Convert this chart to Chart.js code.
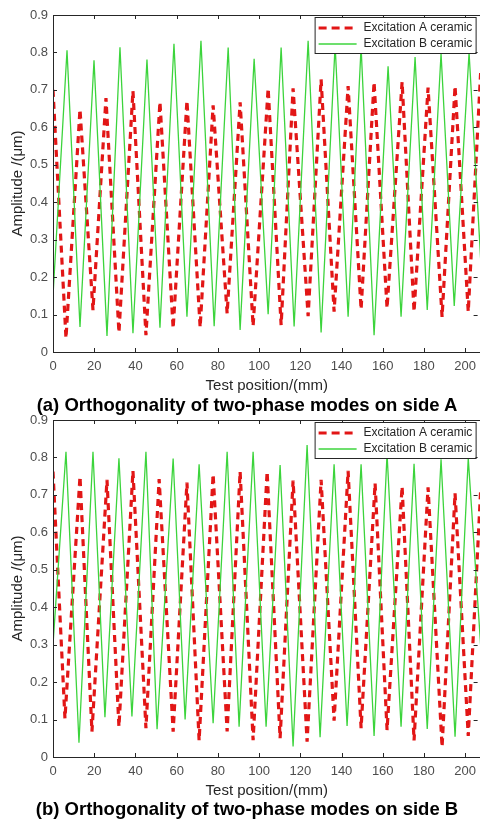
<!DOCTYPE html>
<html lang="en">
<head>
  <meta charset="UTF-8">
  <title>Orthogonality of two-phase modes</title>
  <script src="https://cdn.jsdelivr.net/npm/chart.js"></script>
  <style>
    body {
      margin: 0;
      background: #fff;
      width: 480px;
      height: 821px;
      position: relative;
      overflow: hidden;
      font-family: "Liberation Sans", Arial, sans-serif;
    }
    .box {
      position: absolute;
      left: 0;
      width: 483px;
      height: 395px;
    }
    .caption {
      position: absolute;
      left: 0;
      width: 494px;
      text-align: center;
      font-weight: bold;
      font-size: 18.5px;
      line-height: 22px;
      color: #000;
      z-index: 2;
    }
  </style>
</head>
<body>

<div class="box" style="top: 0;"><canvas id="chart-a"></canvas></div>
<div class="caption" style="top: 394px;">(a) Orthogonality of two-phase modes on side A</div>

<div class="box" style="top: 405px;"><canvas id="chart-b"></canvas></div>
<div class="caption" style="top: 798px;">(b) Orthogonality of two-phase modes on side B</div>

<script>
  // axis ticks
  const xTicks = [0, 20, 40, 60, 80, 100, 120, 140, 160, 180, 200];
  const yTicks = [0, 0.1, 0.2, 0.3, 0.4, 0.5, 0.6, 0.7, 0.8, 0.9];
  const seriesNames = ["Excitation A ceramic", "Excitation B ceramic"];

  // side A, excitation A ceramic (red dashed)
  const sideA_exA_x = [0, 6.3, 13.1, 19.4, 25.7, 32.0, 38.8, 45.1, 51.9, 58.3, 65.0, 71.4, 77.7, 84.5, 90.8, 97.1, 104.4, 110.7, 116.5, 123.8, 130.1, 136.4, 143.2, 149.5, 155.8, 162.1, 169.4, 175.2, 182.0, 188.8, 195.1, 201.5, 207.5];
  const sideA_exA_y = [0.70, 0.037, 0.648, 0.112, 0.678, 0.052, 0.697, 0.045, 0.668, 0.063, 0.671, 0.066, 0.659, 0.103, 0.667, 0.069, 0.704, 0.072, 0.704, 0.096, 0.728, 0.108, 0.710, 0.114, 0.721, 0.117, 0.721, 0.108, 0.706, 0.094, 0.710, 0.108, 0.745];

  // side A, excitation B ceramic (green)
  const sideA_exB_x = [0, 6.8, 13.1, 19.9, 26.2, 32.5, 38.8, 45.6, 51.9, 58.7, 65.0, 71.8, 78.2, 85.0, 90.8, 97.6, 104.4, 110.7, 117.0, 123.8, 130.1, 136.9, 143.2, 149.5, 155.8, 162.6, 168.9, 175.7, 181.6, 188.3, 194.7, 201.9, 207.5];
  const sideA_exB_y = [0.15, 0.806, 0.067, 0.779, 0.043, 0.814, 0.050, 0.781, 0.065, 0.823, 0.094, 0.831, 0.069, 0.813, 0.059, 0.783, 0.101, 0.813, 0.068, 0.831, 0.052, 0.82, 0.094, 0.815, 0.045, 0.763, 0.094, 0.788, 0.112, 0.797, 0.123, 0.80, 0.25];

  // side B, excitation A ceramic (red dashed)
  const sideB_exA_x = [0, 5.8, 13.1, 18.9, 26.2, 32.0, 38.8, 45.1, 51.5, 58.3, 65.0, 70.9, 77.7, 84.5, 90.8, 97.1, 103.9, 110.2, 116.5, 123.3, 130.1, 136.4, 143.2, 149.5, 156.3, 162.1, 169.4, 175.2, 182.0, 188.8, 195.1, 201.5, 207.5];
  const sideB_exA_y = [0.762, 0.103, 0.749, 0.068, 0.740, 0.081, 0.764, 0.077, 0.742, 0.068, 0.733, 0.044, 0.755, 0.068, 0.762, 0.045, 0.762, 0.050, 0.738, 0.041, 0.740, 0.097, 0.764, 0.077, 0.731, 0.072, 0.722, 0.044, 0.720, 0.027, 0.704, 0.056, 0.71];

  // side B, excitation B ceramic (green)
  const sideB_exB_x = [0, 6.3, 12.6, 19.4, 25.2, 32.0, 38.3, 45.1, 50.5, 58.3, 64.1, 70.9, 77.7, 84.5, 90.3, 97.1, 103.4, 110.2, 116.5, 123.3, 129.6, 136.4, 142.7, 149.5, 155.8, 162.1, 168.9, 175.2, 181.6, 188.3, 195.1, 201.5, 207.5];
  const sideB_exB_y = [0.30, 0.815, 0.038, 0.815, 0.106, 0.798, 0.108, 0.815, 0.074, 0.797, 0.100, 0.782, 0.090, 0.815, 0.081, 0.815, 0.081, 0.78, 0.028, 0.833, 0.053, 0.782, 0.083, 0.782, 0.056, 0.81, 0.081, 0.783, 0.075, 0.795, 0.054, 0.798, 0.3];

  const RED = "rgb(226, 22, 22)";
  const GREEN = "rgb(60, 212, 60)";
  const INK = "#262626";
  const FONT = '"Liberation Sans", Arial, sans-serif';

  function toPoints(xs, ys) {
    return xs.map((x, i) => ({ x: x, y: ys[i] }));
  }

  // box, inward ticks and legend like the matlab figure
  const framePlugin = {
    id: "frame",
    afterDatasetsDraw(chart) {
      const { ctx, chartArea: a, scales } = chart;
      ctx.save();
      ctx.strokeStyle = INK;
      ctx.lineWidth = 1;
      ctx.strokeRect(Math.round(a.left) + 0.5, Math.round(a.top) + 0.5, a.right - a.left, a.bottom - a.top);
      ctx.beginPath();
      xTicks.forEach(v => {
        const px = Math.round(scales.x.getPixelForValue(v)) + 0.5;
        ctx.moveTo(px, a.bottom); ctx.lineTo(px, a.bottom - 4);
        ctx.moveTo(px, a.top); ctx.lineTo(px, a.top + 4);
      });
      yTicks.forEach(v => {
        const py = Math.round(scales.y.getPixelForValue(v)) + 0.5;
        ctx.moveTo(a.left, py); ctx.lineTo(a.left + 4, py);
        ctx.moveTo(a.right - 3, py); ctx.lineTo(a.right - 7, py);
      });
      ctx.stroke();

      // legend
      const lx = a.right - 166, ly = a.top + 2, lw = 161, lh = 36;
      ctx.fillStyle = "#fff";
      ctx.fillRect(lx, ly, lw, lh);
      ctx.strokeRect(lx + 0.5, ly + 0.5, lw, lh);
      ctx.lineWidth = 3.2;
      ctx.strokeStyle = RED;
      ctx.setLineDash([8, 5]);
      ctx.beginPath(); ctx.moveTo(lx + 4, ly + 11); ctx.lineTo(lx + 42, ly + 11); ctx.stroke();
      ctx.setLineDash([]);
      ctx.lineWidth = 1.3;
      ctx.strokeStyle = GREEN;
      ctx.beginPath(); ctx.moveTo(lx + 4, ly + 27); ctx.lineTo(lx + 42, ly + 27); ctx.stroke();
      ctx.fillStyle = INK;
      ctx.font = "12px " + FONT;
      ctx.textBaseline = "middle";
      ctx.fillText(seriesNames[0], lx + 49, ly + 11);
      ctx.fillText(seriesNames[1], lx + 49, ly + 27);
      ctx.restore();
    }
  };

  function makeChart(id, redX, redY, greenX, greenY) {
    const ctx = document.getElementById(id).getContext("2d");
    return new Chart(ctx, {
      type: "line",
      data: {
        datasets: [
          {
            label: seriesNames[1],
            data: toPoints(greenX, greenY),
            borderColor: GREEN,
            borderWidth: 1.3,
            pointRadius: 0,
            tension: 0,
            fill: false
          },
          {
            label: seriesNames[0],
            data: toPoints(redX, redY),
            borderColor: RED,
            borderWidth: 3.2,
            borderDash: [7, 5],
            pointRadius: 0,
            tension: 0,
            fill: false
          }
        ]
      },
      options: {
        responsive: true,
        maintainAspectRatio: false,
        animation: false,
        layout: { padding: { top: 15, right: 0, left: 0, bottom: 0 } },
        plugins: {
          legend: { display: false },
          tooltip: { enabled: false }
        },
        scales: {
          x: {
            type: "linear",
            min: 0,
            max: 207.5,
            afterFit: s => { s.height = 43; },
            afterBuildTicks: s => { s.ticks = xTicks.map(v => ({ value: v })); },
            grid: { display: false, drawTicks: false },
            border: { display: false },
            ticks: { color: "#4d4d4d", padding: 7, font: { family: FONT, size: 13 }, maxRotation: 0 },
            title: {
              display: true,
              text: "Test position/(mm)",
              color: INK,
              font: { family: FONT, size: 15 },
              padding: { top: 0, bottom: 0 }
            }
          },
          y: {
            min: 0,
            max: 0.9,
            afterFit: s => { s.width = 53; },
            afterBuildTicks: s => { s.ticks = yTicks.map(v => ({ value: v })); },
            grid: { display: false, drawTicks: false },
            border: { display: false },
            ticks: { color: "#4d4d4d", padding: 5, font: { family: FONT, size: 13 } },
            title: {
              display: true,
              text: "Amplitude /(μm)",
              color: INK,
              font: { family: FONT, size: 15 },
              padding: { top: 9, bottom: 0 }
            }
          }
        }
      },
      plugins: [framePlugin]
    });
  }

  makeChart("chart-a", sideA_exA_x, sideA_exA_y, sideA_exB_x, sideA_exB_y);
  makeChart("chart-b", sideB_exA_x, sideB_exA_y, sideB_exB_x, sideB_exB_y);
</script>

</body>
</html>
